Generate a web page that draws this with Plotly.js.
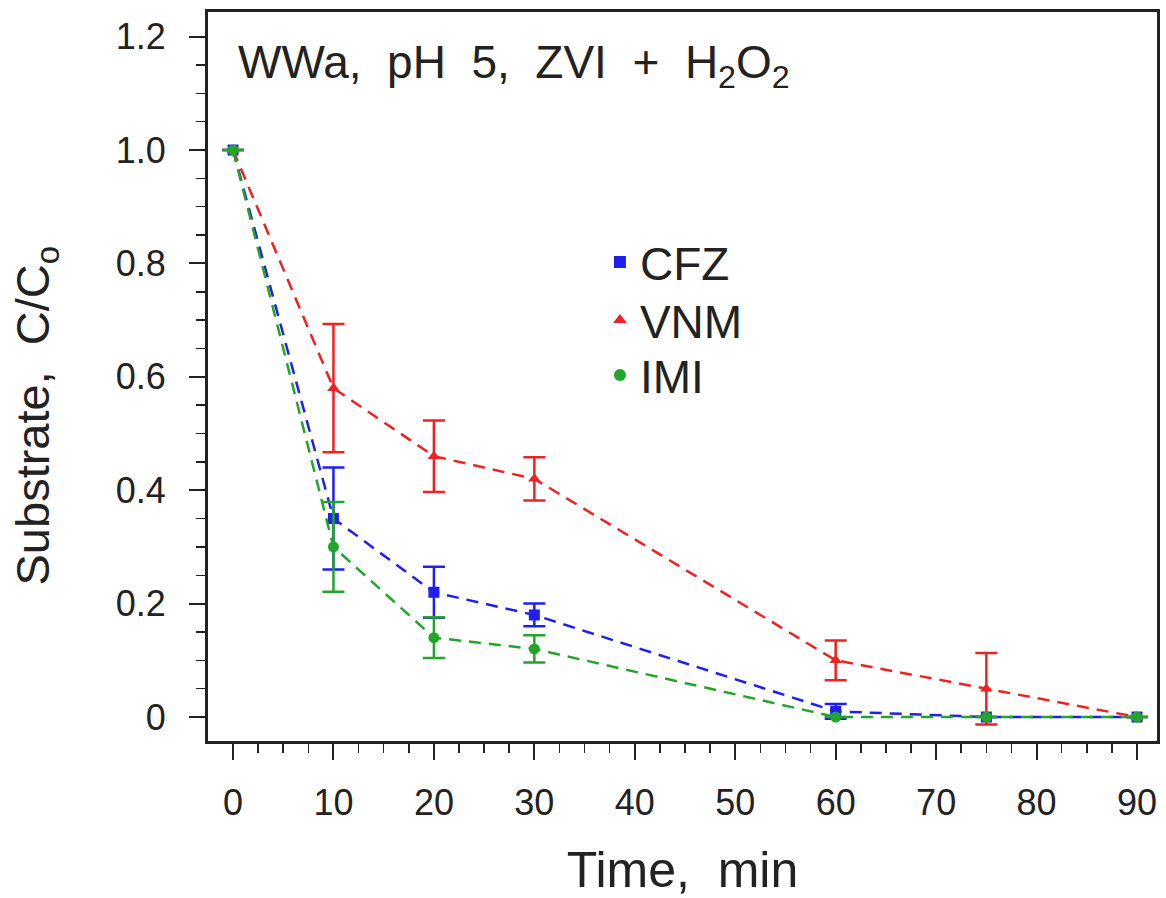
<!DOCTYPE html>
<html>
<head>
<meta charset="utf-8">
<script src="https://cdn.plot.ly/plotly-3.0.1.min.js"></script>
<style>
html,body{margin:0;padding:0;background:#fff;}
#chart{width:1166px;height:898px;}
</style>
</head>
<body>
<div id="chart"></div>
<script>
const time = [0, 10, 20, 30, 60, 75, 90];
const cfz = [1.0, 0.35, 0.22, 0.18, 0.01, 0.0, 0.0];
const cfzErr = [0, 0.09, 0.045, 0.02, 0.013, 0, 0];
const vnm = [1.0, 0.58, 0.46, 0.42, 0.10, 0.05, 0.0];
const vnmErr = [0, 0.113, 0.063, 0.038, 0.035, 0.063, 0];
const imi = [1.0, 0.30, 0.14, 0.12, 0.0, 0.0, 0.0];
const imiErr = [0, 0.079, 0.036, 0.024, 0, 0, 0];
const seriesNames = ['CFZ', 'VNM', 'IMI'];
const xTickVals = [0, 10, 20, 30, 40, 50, 60, 70, 80, 90];
const xTickText = ['0', '10', '20', '30', '40', '50', '60', '70', '80', '90'];
const yTickVals = [0, 0.2, 0.4, 0.6, 0.8, 1.0, 1.2];
const yTickText = ['0', '0.2', '0.4', '0.6', '0.8', '1.0', '1.2'];

const BLUE = '#1f1fee', RED = '#ee2222', GREEN = '#22a52a';
const FONT = 'Liberation Sans, Arial, sans-serif';
const TXT = '#222222';

function series(y, err, name, color, symbol, size) {
  return {
    x: time, y: y, name: name, type: 'scatter', mode: 'lines+markers',
    showlegend: false,
    line: {color: color, width: 2.5, dash: '12px,8px'},
    marker: {color: color, symbol: symbol, size: size},
    error_y: {type: 'data', array: err, visible: true, color: color, thickness: 2.5, width: 11}
  };
}
function legendEntry(name, color, symbol, size, legendId) {
  return {
    x: [null], y: [null], name: name, type: 'scatter', mode: 'markers',
    showlegend: true, legend: legendId,
    marker: {color: color, symbol: symbol, size: size}
  };
}

const data = [
  series(cfz, cfzErr, seriesNames[0], BLUE, 'square', 11),
  series(vnm, vnmErr, seriesNames[1], RED, 'triangle-up', 11),
  series(imi, imiErr, seriesNames[2], GREEN, 'circle', 11),
  legendEntry(seriesNames[0], BLUE, 'square', 11, 'legend'),
  legendEntry(seriesNames[1], RED, 'triangle-up', 11, 'legend2'),
  legendEntry(seriesNames[2], GREEN, 'circle', 11, 'legend3')
];

function legendBox(yPaper) {
  return {
    x: 0.413, y: yPaper, xanchor: 'left', yanchor: 'middle',
    font: {family: FONT, size: 46, color: TXT},
    bgcolor: 'rgba(0,0,0,0)', borderwidth: 0, itemsizing: 'constant'
  };
}

const layout = {
  width: 1166, height: 898,
  margin: {l: 208, r: 9, t: 12, b: 157},
  paper_bgcolor: '#ffffff', plot_bgcolor: '#ffffff',
  font: {family: FONT, color: TXT, size: 36},
  showlegend: true,
  legend: legendBox((741 - 262) / 729),
  legend2: legendBox((741 - 320) / 729),
  legend3: legendBox((741 - 375) / 729),
  xaxis: {
    range: [-2.49, 91.99], autorange: false,
    tickmode: 'array', tickvals: xTickVals, ticktext: xTickText,
    ticks: 'outside', ticklen: 16, tickwidth: 2, tickcolor: TXT,
    minor: {ticks: 'outside', ticklen: 9, tickwidth: 1.5, dtick: 2.5, tick0: 0, tickcolor: TXT, showgrid: false},
    showline: true, mirror: true, linecolor: TXT, linewidth: 3,
    showgrid: false, zeroline: false,
    tickfont: {family: FONT, size: 36, color: TXT},
    ticklabelstandoff: 12,
    title: {text: 'Time,  min', font: {family: FONT, size: 50, color: TXT}, standoff: 30}
  },
  yaxis: {
    range: [-0.0423, 1.2434], autorange: false,
    tickmode: 'array', tickvals: yTickVals, ticktext: yTickText,
    ticks: 'outside', ticklen: 16, tickwidth: 2, tickcolor: TXT,
    minor: {ticks: 'outside', ticklen: 9, tickwidth: 1.5, dtick: 0.05, tick0: 0, tickcolor: TXT, showgrid: false},
    showline: true, mirror: true, linecolor: TXT, linewidth: 3,
    showgrid: false, zeroline: false,
    tickfont: {family: FONT, size: 36, color: TXT},
    ticklabelstandoff: 16,
    title: {text: 'Substrate,  C/C<sub>o</sub>&nbsp;&nbsp;&nbsp;&nbsp;&nbsp;&nbsp;', font: {family: FONT, size: 47, color: TXT}, standoff: 52}
  },
  annotations: [{
    xref: 'paper', yref: 'paper', x: 0.03, y: 0.927, xanchor: 'left', yanchor: 'middle',
    text: 'WWa,  pH  5,  ZVI  +  H<sub>2</sub>O<sub>2</sub>', showarrow: false,
    font: {family: FONT, size: 46, color: TXT}
  }]
};

Plotly.newPlot('chart', data, layout, {displayModeBar: false, staticPlot: true});
</script>
</body>
</html>
